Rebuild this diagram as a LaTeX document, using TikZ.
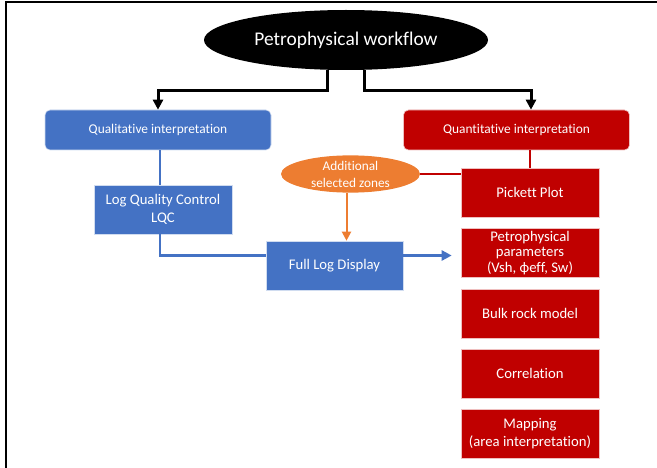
\documentclass[tikz,border=0pt]{standalone}
\usepackage{fontspec}
\setmainfont[Ligatures=NoCommon]{Carlito}
\usetikzlibrary{shapes.geometric, arrows.meta, positioning}
\definecolor{qualblue}{HTML}{4472C4}
\definecolor{quantred}{HTML}{C00000}
\definecolor{zoneorange}{HTML}{ED7D31}

\begin{document}
\begin{tikzpicture}[
				x=1pt, y=-1pt,
				node distance=10.5pt,
				block/.style={
					rectangle,
					draw=white!75!quantred,
					fill=quantred,
					text=white,
					align=center,
					minimum width=138pt,
					minimum height=49pt,
					font=\fontsize{14.7}{18.5}\selectfont,
					line width=0.6pt
				},
				header/.style={
					block,
					rounded corners=5pt,
					minimum width=226pt,
					minimum height=40pt,
					font=\fontsize{13.4}{15}\selectfont
				},
				arrow/.style={
					-{Triangle[length=10pt, width=10pt]},
					line width=3pt
				},
				link/.style={
					line width=2.8pt
				}
				]
				
				\useasboundingbox (0,0) rectangle (657,468);
				
				% Frame
				\draw[line width=2pt] (6,468) -- (6,2) -- (657,2);
				
				% Title: Petrophysical workflow
				\node[ellipse, fill=black, text=white, minimum width=284pt, minimum height=60pt, inner sep=0pt, font=\fontsize{19.4}{22}\selectfont] (workflow) at (346,40) {Petrophysical workflow};
				
				% Block 1: Qualitative interpretation
				\node[header, fill=qualblue, draw=white!75!qualblue] (qual) at (158,130) {Qualitative interpretation};
				
				% Block 2: Quantitative interpretation
				\node[header] (quant) at (516.5,130) {Quantitative interpretation};
				
				\draw[arrow] ([xshift=-19pt]workflow.south) -- ++(0,20) -| (qual.north);
				\draw[arrow] ([xshift=18pt]workflow.south) -- ++(0,20) -| ([xshift=14.5pt]quant.north);
				
				% Block 3: Log Quality Control
				\node[block, fill=qualblue, draw=white!75!qualblue] (lqc) at (163,209.5) {Log Quality Control\\LQC};
				
				% Block 4: Full Log Display
				\node[block, fill=qualblue, draw=white!75!qualblue, minimum width=137pt] (fld) at (334.5,265.5) {Full Log Display};
				
				% Additional selected zones
				\node[ellipse, fill=zoneorange, text=white, minimum width=139pt, minimum height=36pt, inner sep=0pt, align=center, font=\fontsize{13.3}{17}\selectfont] (zones) at (350.5,174) {Additional\\selected zones};
				
				% Blocks 5-9: quantitative column
				\node[block] (pickett) at (530,192.5) {Pickett Plot};
				\node[block, below=of pickett, font=\fontsize{14.7}{15.2}\selectfont] (params) {Petrophysical\\parameters\\(Vsh, ϕeff, Sw)};
				\node[block, below=of params] (bulk) {Bulk rock model};
				\node[block, below=of bulk] (corr) {Correlation};
				\node[block, below=of corr] (mapping) {Mapping\\(area interpretation)};
				
				% Qualitative path
				\draw[link, qualblue] (qual.south -| 160,0) -- (lqc.north -| 160,0);
				\draw[link, qualblue] (lqc.south -| 160,0) |- ([yshift=10pt]fld.west);
				\draw[link, qualblue, -{Triangle[length=10pt, width=10pt]}] ([yshift=10pt]fld.east) -- ([yshift=10pt]fld.east -| params.west) [shorten >=9pt];
				
				% Zones into display
				\draw[zoneorange, line width=2pt, -{Triangle[length=9pt, width=9pt]}] ([xshift=-4pt]zones.south) -- ([xshift=-4pt]zones.south |- fld.north);
				
				% Quantitative path
				\draw[link, quantred] (pickett.north |- quant.south) -- (pickett.north);
				\draw[link, quantred] (zones.east) -- (zones.east -| pickett.west);
				
			\end{tikzpicture}
\end{document}
